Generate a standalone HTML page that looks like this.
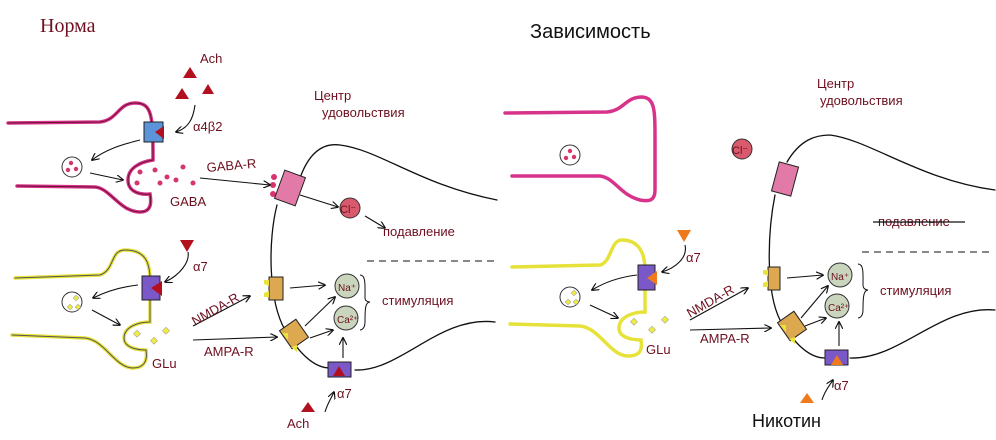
<!DOCTYPE html>
<html><head><meta charset="utf-8"><style>body{margin:0;background:#fff}svg{display:block}</style></head>
<body>
<svg width="996" height="440" viewBox="0 0 996 440" xmlns="http://www.w3.org/2000/svg" font-family="Liberation Sans, sans-serif">
<defs>
<marker id="a" viewBox="0 0 10 10" refX="9" refY="5" markerWidth="7" markerHeight="7" orient="auto"><path d="M0,0 L10,5 L0,10" fill="none" stroke="#111" stroke-width="1.5"/></marker>
</defs>
<g fill="#6e0f1f" font-size="13">
<text x="40" y="32" font-size="20" font-family="Liberation Serif, serif">Норма</text>
</g>
<text x="530" y="38" font-size="20" fill="#111">Зависимость</text>
<text x="752" y="427" font-size="18" fill="#111">Никотин</text>

<!-- LEFT -->
<g fill="none" stroke-linecap="round">
<path d="M8,123 L100,122 C118,120 118,103 135,103 C152,103 153,115 153,160 C140,162 128,168 128,180 C128,192 140,195 150,194 C152,205 150,212 140,212 C120,212 110,188 95,187 L17,186" stroke="#d7338a" stroke-width="3.5"/>
<path d="M15,278 L100,275 C115,270 110,250 125,250 C145,250 150,262 150,280 L150,322 C138,322 124,327 124,338 C124,348 138,350 146,350 C148,362 143,368 133,368 C115,368 105,340 85,338 L12,335" stroke="#e6e23a" stroke-width="3.5"/>
<path d="M8,123 L100,122 C118,120 118,103 135,103 C152,103 153,115 153,160 C140,162 128,168 128,180 C128,192 140,195 150,194 C152,205 150,212 140,212 C120,212 110,188 95,187 L17,186" stroke="#6a1030" stroke-width="1"/>
<path d="M15,278 L100,275 C115,270 110,250 125,250 C145,250 150,262 150,280 L150,322 C138,322 124,327 124,338 C124,348 138,350 146,350 C148,362 143,368 133,368 C115,368 105,340 85,338 L12,335" stroke="#555" stroke-width="1"/>
<path d="M300,178 C310,150 325,143 340,145 C380,150 420,185 497,200" stroke="#111" stroke-width="1.3"/>
<path d="M277,205 C268,240 268,300 285,330 C300,355 315,368 330,368" stroke="#111" stroke-width="1.3"/>
<path d="M355,370 C400,372 440,315 495,322" stroke="#111" stroke-width="1.3"/>
</g>
<circle cx="72" cy="167" r="10" fill="#fff" stroke="#333"/>
<g fill="#d7336f"><circle cx="71" cy="163" r="2.2"/><circle cx="68" cy="170" r="2.2"/><circle cx="76" cy="169" r="2.2"/>
<circle cx="140" cy="172" r="2.5"/><circle cx="155" cy="170" r="2.5"/><circle cx="167" cy="177" r="2.5"/><circle cx="183" cy="167" r="2.5"/><circle cx="160" cy="183" r="2.5"/><circle cx="176" cy="180" r="2.5"/><circle cx="193" cy="183" r="2.5"/><circle cx="137" cy="183" r="2.5"/>
<circle cx="274" cy="177" r="3"/><circle cx="273" cy="185" r="3"/><circle cx="273" cy="194" r="3"/></g>
<rect x="144" y="122" width="19" height="20" fill="#5b94d8" stroke="#222"/>
<polygon points="155,132 164,126 164,139" fill="#b3101f"/>
<g fill="#b3101f"><polygon points="190,67 197,78 183,78"/><polygon points="182,88 189,99 175,99"/><polygon points="208,84 214,94 202,94"/></g>
<rect x="279" y="173" width="22" height="30" fill="#e27aa7" stroke="#222" transform="rotate(20 290 188)"/>
<circle cx="350" cy="208" r="10" fill="#d85a6c" stroke="#333"/>
<rect x="142" y="276" width="18" height="24" fill="#7a58c8" stroke="#222"/>
<polygon points="151,288 162,281 162,296" fill="#b3101f"/>
<polygon points="180,240 194,240 187,252" fill="#b3101f"/>
<circle cx="72" cy="302" r="10" fill="#fff" stroke="#333"/>
<g fill="#f0ec40" stroke="#999" stroke-width=".5"><rect x="74" y="296" width="4" height="4" transform="rotate(45 76 298)"/><rect x="68" y="305" width="4" height="4" transform="rotate(45 70 307)"/><rect x="76" y="305" width="4" height="4" transform="rotate(45 78 307)"/>
<rect x="135" y="331" width="5" height="5" transform="rotate(45 137 333)"/><rect x="152" y="338" width="5" height="5" transform="rotate(45 154 340)"/><rect x="164" y="328" width="5" height="5" transform="rotate(45 166 330)"/></g>
<rect x="269" y="277" width="14" height="23" fill="#dca850" stroke="#222"/>
<g fill="#e8e43a"><polygon points="264,280 269,280 269,286 264,284"/><polygon points="264,293 269,291 269,297 264,297"/></g>
<rect x="284" y="323" width="20" height="22" fill="#dca850" stroke="#222" transform="rotate(-35 294 334)"/>
<g fill="#e8e43a"><polygon points="282,333 288,333 288,340"/><polygon points="291,347 297,345 297,352"/></g>
<circle cx="347" cy="286" r="12" fill="#c9d6bd" stroke="#333"/>
<circle cx="346" cy="318" r="12" fill="#c9d6bd" stroke="#333"/>
<rect x="328" y="362" width="23" height="15" fill="#7a58c8" stroke="#222"/>
<polygon points="339,366 345,376 333,376" fill="#b3101f"/>
<polygon points="308,402 315,412 301,412" fill="#b3101f"/>
<g fill="none" stroke="#111" stroke-width="1.1" marker-end="url(#a)">
<path d="M195,105 C193,120 188,128 176,132"/><path d="M140,140 C120,145 105,150 92,160"/><path d="M90,173 L123,180"/>
<path d="M200,178 L270,185"/><path d="M300,195 L338,207"/><path d="M365,216 L385,228"/>
<path d="M188,252 C190,262 180,275 165,282"/><path d="M138,285 C120,287 105,292 93,298"/><path d="M92,310 L120,325"/>
<path d="M193,326 L250,296"/><path d="M193,340 L277,337"/>
<path d="M290,288 L325,285"/><path d="M305,326 L335,297"/><path d="M310,338 L333,330"/><path d="M343,358 L343,338"/><path d="M325,412 C328,402 332,397 334,392"/>
</g>
<path d="M360,275 C366,275 365,285 365,298 C365,302 370,302 370,302 C365,302 365,310 365,322 C365,330 360,330 360,330" fill="none" stroke="#111"/>
<path d="M367,261 L497,261" stroke="#111" stroke-dasharray="7,5"/>
<g fill="#6e0f1f" font-size="13">
<text x="200" y="63">Ach</text><text x="193" y="131">α4β2</text><text x="170" y="206">GABA</text>
<text x="207" y="172" transform="rotate(-5 207 172)">GABA-R</text>
<text x="314" y="100">Центр</text><text x="322" y="117">удовольствия</text>
<text x="340" y="213" font-size="11">Cl⁻</text><text x="383" y="236">подавление</text>
<text x="338" y="291" font-size="10">Na⁺</text><text x="337" y="323" font-size="10">Ca²⁺</text>
<text x="382" y="305">стимуляция</text><text x="193" y="271">α7</text>
<text x="195" y="326" transform="rotate(-30 195 326)">NMDA-R</text><text x="204" y="356">AMPA-R</text>
<text x="152" y="368">GLu</text><text x="287" y="428">Ach</text><text x="337" y="398">α7</text>
</g>

<!-- RIGHT -->
<g fill="none" stroke-linecap="round">
<path d="M505,113 L607,112 C625,110 625,97 642,97 C655,98 655,110 655,140 L655,190 C655,200 650,202 640,200 C620,195 615,178 600,176 L512,176" stroke="#d7338a" stroke-width="3.5"/>
<path d="M512,267 L600,265 C612,262 610,240 622,240 C640,240 645,255 645,270 L645,312 C633,312 619,317 619,328 C619,338 633,340 641,340 C643,352 638,356 628,356 C610,356 600,328 580,326 L510,324" stroke="#e6e23a" stroke-width="3.5"/>
<path d="M787,162 C800,140 815,135 830,135 C870,140 920,180 995,190" stroke="#111" stroke-width="1.3"/>
<path d="M775,195 C768,230 765,290 780,320 C795,345 810,358 825,358" stroke="#111" stroke-width="1.3"/>
<path d="M850,358 C900,360 940,305 995,310" stroke="#111" stroke-width="1.3"/>
</g>
<circle cx="570" cy="155" r="10" fill="#fff" stroke="#333"/>
<g fill="#d7336f"><circle cx="570" cy="151" r="2.2"/><circle cx="566" cy="158" r="2.2"/><circle cx="574" cy="157" r="2.2"/></g>
<circle cx="742" cy="149" r="10" fill="#d85a6c" stroke="#333"/>
<rect x="775" y="164" width="20" height="30" fill="#e27aa7" stroke="#222" transform="rotate(15 785 179)"/>
<rect x="638" y="265" width="17" height="25" fill="#7a58c8" stroke="#222"/>
<polygon points="647,278 657,271 657,285" fill="#f07a1a"/>
<polygon points="677,230 691,230 684,242" fill="#f07a1a"/>
<circle cx="570" cy="297" r="10" fill="#fff" stroke="#333"/>
<g fill="#f0ec40" stroke="#999" stroke-width=".5"><rect x="572" y="291" width="4" height="4" transform="rotate(45 574 293)"/><rect x="566" y="300" width="4" height="4" transform="rotate(45 568 302)"/><rect x="574" y="300" width="4" height="4" transform="rotate(45 576 302)"/>
<rect x="632" y="319" width="5" height="5" transform="rotate(45 634 321)"/><rect x="650" y="327" width="5" height="5" transform="rotate(45 652 329)"/><rect x="663" y="317" width="5" height="5" transform="rotate(45 665 319)"/></g>
<rect x="768" y="267" width="12" height="23" fill="#dca850" stroke="#222"/>
<g fill="#e8e43a"><polygon points="763,270 768,270 768,276 763,274"/><polygon points="763,283 768,281 768,287 763,287"/></g>
<rect x="782" y="315" width="20" height="22" fill="#dca850" stroke="#222" transform="rotate(-35 792 326)"/>
<g fill="#e8e43a"><polygon points="780,325 786,325 786,332"/><polygon points="789,339 795,337 795,344"/></g>
<circle cx="840" cy="275" r="12" fill="#c9d6bd" stroke="#333"/>
<circle cx="837" cy="306" r="12" fill="#c9d6bd" stroke="#333"/>
<rect x="825" y="350" width="23" height="15" fill="#7a58c8" stroke="#222"/>
<polygon points="837,355 843,365 831,365" fill="#f07a1a"/>
<polygon points="807,393 814,403 800,403" fill="#f07a1a"/>
<g fill="none" stroke="#111" stroke-width="1.1" marker-end="url(#a)">
<path d="M685,245 C688,258 675,268 662,272"/><path d="M637,275 C620,277 605,282 592,290"/><path d="M590,305 L618,318"/>
<path d="M690,320 L748,288"/><path d="M690,330 L771,328"/>
<path d="M787,278 L823,275"/><path d="M801,318 L828,286"/><path d="M805,326 L826,318"/><path d="M839,346 L839,322"/><path d="M822,400 C825,390 830,385 833,380"/>
</g>
<path d="M858,264 C864,264 863,274 863,285 C863,290 868,290 868,290 C863,290 863,300 863,310 C863,318 858,318 858,318" fill="none" stroke="#111"/>
<path d="M862,252 L992,252" stroke="#111" stroke-dasharray="7,5"/>
<g fill="#6e0f1f" font-size="13">
<text x="817" y="88">Центр</text><text x="820" y="105">удовольствия</text>
<text x="732" y="154" font-size="11">Cl⁻</text>
<text x="878" y="226">подавление</text>
<text x="831" y="280" font-size="10">Na⁺</text><text x="828" y="311" font-size="10">Ca²⁺</text>
<text x="880" y="295">стимуляция</text><text x="686" y="262">α7</text>
<text x="690" y="318" transform="rotate(-30 690 318)">NMDA-R</text><text x="700" y="343">AMPA-R</text>
<text x="646" y="354">GLu</text><text x="834" y="390">α7</text>
</g>
<path d="M873,222 L965,222" stroke="#111" stroke-width="1.3"/>
</svg>
</body></html>
